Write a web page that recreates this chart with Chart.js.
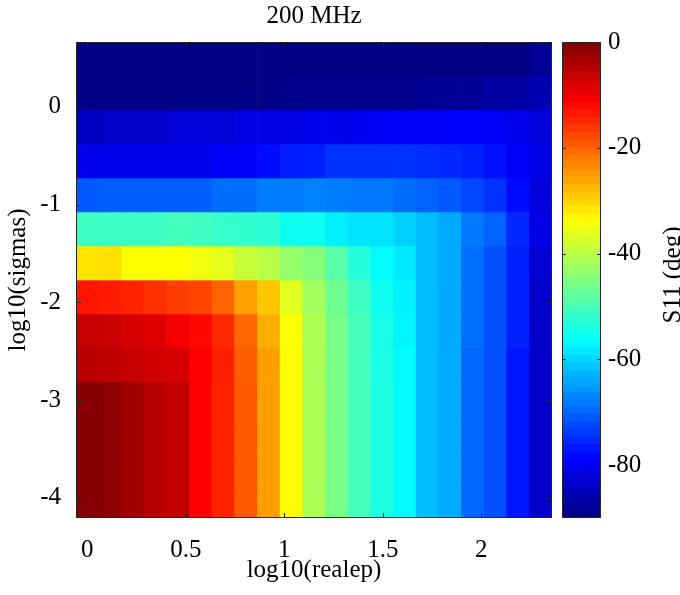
<!DOCTYPE html>
<html><head><meta charset="utf-8">
<script src="https://cdn.jsdelivr.net/npm/chart.js@4/dist/chart.umd.min.js"></script>
<style>html,body{margin:0;padding:0;background:#fff;}#wrap{width:680px;height:595px;}</style>
</head><body><div id="wrap"><canvas id="c" width="680" height="595"></canvas></div>
<script>
// ---- data ----
const logRealep = [0, 0.115, 0.230, 0.345, 0.460, 0.575, 0.690, 0.805, 0.921, 1.036, 1.151, 1.266, 1.381, 1.496, 1.611, 1.726, 1.841, 1.956, 2.071, 2.186, 2.301];
const logSigmas = [-4.032, -3.684, -3.336, -2.989, -2.641, -2.293, -1.945, -1.598, -1.250, -0.902, -0.554, -0.207, 0.141, 0.489];
const xTicks = [0, 0.5, 1, 1.5, 2];
const xTickLabels = ['0', '0.5', '1', '1.5', '2'];
const yTicks = [-4, -3, -2, -1, 0];
const yTickLabels = ['-4', '-3', '-2', '-1', '0'];
const cbarTicks = [-80, -60, -40, -20, 0];
const cbarTickLabels = ['-80', '-60', '-40', '-20', '0'];
const s11Min = -90, s11Max = 0;
const chartTitle = '200 MHz';
const xTitle = 'log10(realep)';
const yTitle = 'log10(sigmas)';
const cbarTitle = 'S11 (deg)';

// S11 phase (deg), one array per log10(sigmas) row, bottom to top
const s11_r00 = [-0.5, -1.0, -3.0, -4.8, -6.0, -11.2, -14.4, -19.1, -25.4, -33.5, -41.2, -45.7, -50.2, -53.6, -56.5, -61.9, -63.7, -69.7, -71.7, -77.0, -83.7];
const s11_r01 = [-0.5, -1.0, -3.0, -4.8, -6.0, -11.2, -14.4, -19.1, -25.4, -33.5, -41.2, -45.7, -50.2, -53.6, -56.5, -61.9, -63.7, -69.7, -71.7, -77.0, -83.7];
const s11_r02 = [-0.5, -1.0, -3.0, -4.8, -6.0, -11.2, -14.4, -19.1, -25.4, -33.5, -41.2, -45.7, -50.2, -53.6, -56.5, -61.9, -63.7, -69.7, -71.7, -77.0, -83.7];
const s11_r03 = [-0.5, -1.0, -3.0, -4.8, -6.0, -11.2, -14.4, -19.1, -25.4, -33.5, -41.2, -45.7, -50.2, -53.6, -56.5, -61.9, -63.7, -69.7, -71.7, -77.0, -83.7];
const s11_r04 = [-5.0, -5.5, -6.2, -7.1, -7.6, -11.2, -14.0, -19.5, -25.2, -33.5, -41.2, -45.7, -50.2, -54.0, -56.5, -61.9, -63.7, -69.7, -71.7, -77.0, -83.7];
const s11_r05 = [-6.2, -6.5, -7.6, -8.5, -10.3, -12.0, -14.8, -20.4, -26.5, -34.0, -41.0, -45.7, -50.0, -54.0, -57.0, -62.0, -63.7, -69.0, -71.7, -76.0, -83.5];
const s11_r06 = [-13.0, -13.5, -14.4, -15.5, -16.6, -17.3, -20.0, -25.4, -28.8, -36.5, -42.0, -46.5, -50.8, -55.0, -57.5, -62.0, -63.7, -69.0, -71.7, -76.0, -83.5];
const s11_r07 = [-31.5, -31.0, -33.7, -33.7, -33.7, -35.0, -36.0, -38.7, -40.0, -43.0, -44.5, -48.5, -53.0, -56.5, -58.0, -61.9, -63.7, -69.0, -71.7, -76.0, -82.7];
const s11_r08 = [-51.0, -51.0, -51.0, -51.0, -50.3, -50.8, -51.5, -52.0, -52.5, -55.0, -55.0, -57.6, -58.5, -58.5, -60.3, -61.9, -63.7, -68.2, -70.0, -75.2, -81.0];
const s11_r09 = [-70.9, -70.5, -70.5, -70.5, -70.5, -70.5, -69.1, -69.1, -67.7, -67.7, -67.3, -67.7, -68.2, -68.2, -69.1, -70.0, -70.9, -72.7, -74.3, -77.9, -81.9];
const s11_r10 = [-80.5, -80.5, -80.5, -80.5, -80.5, -80.5, -79.5, -79.5, -77.9, -76.5, -76.0, -74.3, -74.3, -74.3, -74.3, -74.8, -75.2, -76.0, -77.4, -79.5, -81.0];
const s11_r11 = [-84.0, -83.5, -83.5, -83.5, -82.3, -82.3, -82.3, -81.5, -81.5, -81.5, -80.5, -80.5, -80.0, -79.5, -79.5, -79.5, -78.8, -78.8, -79.5, -80.5, -82.3];
const s11_r12 = [-89.5, -89.5, -89.5, -89.5, -89.5, -89.5, -89.5, -89.5, -89.5, -89.0, -89.0, -89.0, -89.0, -89.0, -89.0, -88.0, -88.0, -88.0, -87.0, -87.0, -85.5];
const s11_r13 = [-89.8, -89.8, -89.8, -89.8, -89.8, -89.8, -89.8, -89.8, -89.8, -89.8, -89.8, -89.8, -89.8, -89.8, -89.8, -89.9, -89.9, -89.9, -89.9, -89.9, -88.0];
const s11Rows = [s11_r00, s11_r01, s11_r02, s11_r03, s11_r04, s11_r05, s11_r06, s11_r07, s11_r08, s11_r09, s11_r10, s11_r11, s11_r12, s11_r13];

// ---- helpers ----
const FONT = '"Liberation Serif", "Times New Roman", serif';
function clamp01(v){ return Math.min(1, Math.max(0, v)); }
function jet(t){
  t = clamp01(t);
  const r = clamp01(1.5 - Math.abs(4*t - 3));
  const g = clamp01(1.5 - Math.abs(4*t - 2));
  const b = clamp01(1.5 - Math.abs(4*t - 1));
  return 'rgb(' + Math.round(r*255) + ',' + Math.round(g*255) + ',' + Math.round(b*255) + ')';
}
function colorFor(v){ return jet((v - s11Min) / (s11Max - s11Min)); }

const xStep = logRealep[1] - logRealep[0];
const yStep = logSigmas[1] - logSigmas[0];
const cells = [];
s11Rows.forEach((row, i) => row.forEach((v, j) => {
  cells.push({ y: logSigmas[i], x: [logRealep[j] - xStep/2, logRealep[j] + xStep/2], v: v });
}));

const frame = {
  id: 'frame',
  afterDraw(chart){
    const {ctx, chartArea: a, scales} = chart;
    ctx.save();
    // inward tick marks
    ctx.strokeStyle = '#262626'; ctx.lineWidth = 1;
    ctx.beginPath();
    xTicks.forEach(v => { const px = Math.round(scales.x.getPixelForValue(v)) + 0.5;
      ctx.moveTo(px, a.bottom); ctx.lineTo(px, a.bottom - 5);
      ctx.moveTo(px, a.top); ctx.lineTo(px, a.top + 5); });
    yTicks.forEach(v => { const py = Math.round(scales.y.getPixelForValue(v)) + 0.5;
      ctx.moveTo(a.left, py); ctx.lineTo(a.left + 5, py);
      ctx.moveTo(a.right, py); ctx.lineTo(a.right - 5, py); });
    ctx.stroke();
    // axes box
    ctx.strokeRect(Math.round(a.left) + 0.5, Math.round(a.top) + 0.5, Math.round(a.right - a.left) - 1, Math.round(a.bottom - a.top) - 1);

    // colour bar
    const cb = scales.cbar;
    const x0 = a.right + 10, x1 = a.right + 49;
    const n = 64;
    for (let k = 0; k < n; k++) {
      const v0 = s11Min + (s11Max - s11Min) * k / n;
      const v1 = s11Min + (s11Max - s11Min) * (k + 1) / n;
      const p0 = cb.getPixelForValue(v0), p1 = cb.getPixelForValue(v1);
      ctx.fillStyle = jet((k + 0.5) / n);
      ctx.fillRect(x0, Math.floor(p1), x1 - x0, Math.ceil(p0) - Math.floor(p1));
    }
    ctx.strokeStyle = '#262626';
    const ct = cb.getPixelForValue(s11Max), cbt = cb.getPixelForValue(s11Min);
    ctx.strokeRect(Math.round(x0) + 0.5, Math.round(ct) + 0.5, Math.round(x1 - x0) - 1, Math.round(cbt - ct) - 1);
    ctx.beginPath();
    cbarTicks.forEach(v => { if (v <= s11Min || v >= s11Max) return;
      const py = Math.round(cb.getPixelForValue(v)) + 0.5;
      ctx.moveTo(x0, py); ctx.lineTo(x0 + 4, py);
      ctx.moveTo(x1, py); ctx.lineTo(x1 - 4, py); });
    ctx.stroke();
    // colour bar title
    ctx.fillStyle = '#000';
    ctx.font = '25px ' + FONT;
    ctx.textAlign = 'center'; ctx.textBaseline = 'middle';
    ctx.translate(673, (ct + cbt) / 2 - 5);
    ctx.rotate(-Math.PI / 2);
    ctx.fillText(cbarTitle, 0, 0);
    ctx.restore();
  }
};

const tickFont = { family: FONT, size: 25, lineHeight: 1.2 };
const gridCol = 'rgba(40,40,40,0.22)';
function noPad(s){ s.paddingTop = 0; s.paddingBottom = 0; s.paddingLeft = 0; s.paddingRight = 0; }

new Chart(document.getElementById('c'), {
  type: 'bar',
  data: { datasets: [{
    data: cells,
    xAxisID: 'x', yAxisID: 'y',
    backgroundColor: ctx => colorFor(ctx.raw.v),
    borderWidth: 0,
    barPercentage: 1, categoryPercentage: 1
  }]},
  options: {
    indexAxis: 'y',
    responsive: false,
    animation: false,
    devicePixelRatio: 1,
    layout: { padding: 0 },
    plugins: {
      legend: { display: false },
      tooltip: { enabled: false },
      title: { display: true, text: chartTitle, fullSize: false, color: '#000',
        font: { family: FONT, size: 25, weight: 'normal', lineHeight: 1.2 },
        padding: { top: 1, bottom: 11 } }
    },
    scales: {
      x: {
        type: 'linear', position: 'bottom', z: 1, offset: false,
        min: logRealep[0] - xStep/2, max: logRealep[logRealep.length-1] + xStep/2,
        afterBuildTicks: s => { s.ticks = xTicks.map(v => ({ value: v })); },
        afterFit: s => { s.height = 77; noPad(s); },
        ticks: { color: '#000', font: tickFont, padding: 17, maxRotation: 0, autoSkip: false,
          callback: (v, i) => xTickLabels[i] },
        grid: { color: gridCol, drawTicks: false },
        border: { display: false },
        title: { display: true, text: xTitle, color: '#000', font: tickFont, padding: { top: 0, bottom: 10 } }
      },
      y: {
        type: 'linear', position: 'left', z: 1, offset: false,
        min: logSigmas[0] - yStep/2, max: logSigmas[logSigmas.length-1] + yStep/2,
        afterBuildTicks: s => { s.ticks = yTicks.map(v => ({ value: v })); },
        afterFit: s => { s.width = 76; noPad(s); },
        ticks: { color: '#000', font: tickFont, padding: 15, autoSkip: false,
          callback: (v, i) => yTickLabels[i] },
        grid: { color: gridCol, drawTicks: false, offset: false },
        border: { display: false },
        title: { display: true, text: yTitle, color: '#000', font: tickFont, padding: { top: 3, bottom: 0 } }
      },
      cbar: {
        axis: 'y', type: 'linear', position: 'right', offset: false,
        min: s11Min, max: s11Max,
        afterBuildTicks: s => { s.ticks = cbarTicks.map(v => ({ value: v })); },
        afterFit: s => { s.width = 128; noPad(s); },
        ticks: { color: '#000', font: tickFont, padding: 56, autoSkip: false,
          callback: (v, i) => cbarTickLabels[i] },
        grid: { display: false, drawTicks: false, offset: false },
        border: { display: false }
      }
    }
  },
  plugins: [frame]
});
</script>
</body></html>
